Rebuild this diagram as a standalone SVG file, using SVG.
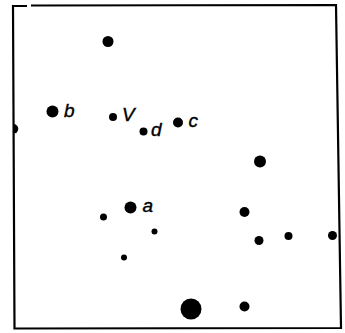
<svg xmlns="http://www.w3.org/2000/svg" width="345" height="333" viewBox="0 0 345 333">
<style>
.dot{fill:#000}
.lbl{font-family:"Liberation Sans",Arial,sans-serif;font-style:italic;font-size:19px;fill:#000;stroke:#000;stroke-width:0.4}
.frame{fill:none;stroke:#000;stroke-width:2.2;stroke-linejoin:miter;stroke-linecap:butt}
</style>
<rect width="345" height="333" fill="#fff"/>
<g id="frame">
<path class="frame" d="M27,6 L13,6 L14.5,328.5 L341,328 L336,5 L31,5.5"/>
</g>
<g id="connectors"></g>
<g id="nodes">
<g id="n1"><circle class="dot" cx="108" cy="41.5" r="5.5"/></g>
<g id="nb"><circle class="dot" cx="52.5" cy="111.5" r="6"/><text class="lbl" x="64" y="117">b</text></g>
<g id="nV"><circle class="dot" cx="113" cy="117" r="4"/><text class="lbl" x="122" y="120.5" font-size="20">V</text></g>
<g id="nd"><circle class="dot" cx="143.5" cy="131.5" r="4"/><text class="lbl" x="151" y="135.5">d</text></g>
<g id="nc"><circle class="dot" cx="178" cy="122.5" r="5"/><text class="lbl" x="188.5" y="127">c</text></g>
<g id="nedge"><path class="dot" d="M13.5,124 A4.8,4.8 0 0 1 13.5,133.6 Z"/></g>
<g id="n2"><circle class="dot" cx="260" cy="161.5" r="6"/></g>
<g id="na"><circle class="dot" cx="130.5" cy="207.5" r="6"/><text class="lbl" x="142.5" y="212" font-size="20">a</text></g>
<g id="n3"><circle class="dot" cx="103.5" cy="217" r="3.5"/></g>
<g id="n4"><circle class="dot" cx="154.5" cy="231.5" r="3"/></g>
<g id="n5"><circle class="dot" cx="124" cy="257.5" r="3"/></g>
<g id="n6"><circle class="dot" cx="244.5" cy="212" r="5"/></g>
<g id="n7"><circle class="dot" cx="259" cy="240.5" r="4.5"/></g>
<g id="n8"><circle class="dot" cx="288.5" cy="236" r="4"/></g>
<g id="n9"><circle class="dot" cx="332.5" cy="235.5" r="4.5"/></g>
<g id="n10"><circle class="dot" cx="191" cy="309" r="10.5"/></g>
<g id="n11"><circle class="dot" cx="244.5" cy="306.5" r="5"/></g>
</g>
</svg>
